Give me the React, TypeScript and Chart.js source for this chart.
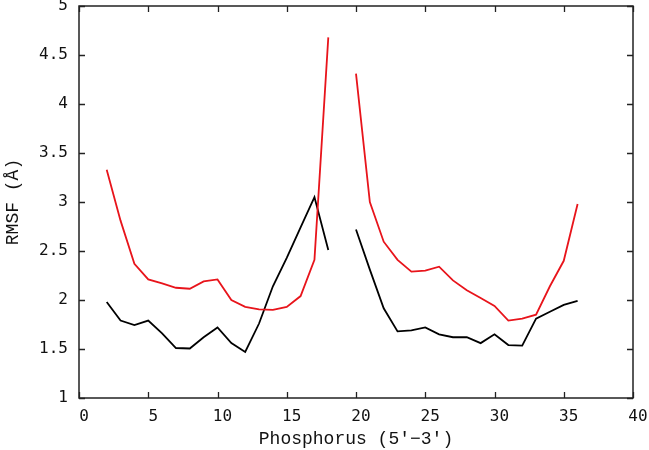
import React, { useEffect, useRef } from "react";
import { Chart, registerables } from "chart.js";

Chart.register(...registerables);

// x positions (phosphorus index); 19 has no value (gap)
const positions = [2, 3, 4, 5, 6, 7, 8, 9, 10, 11, 12, 13, 14, 15, 16, 17, 18, 19, 20, 21, 22, 23, 24, 25, 26, 27, 28, 29, 30, 31, 32, 33, 34, 35, 36];

const redSeries: (number | null)[] = [
  3.33, 2.81, 2.37, 2.21, 2.17, 2.125, 2.115, 2.19, 2.21, 2.0, 1.93, 1.905, 1.9, 1.93, 2.04, 2.41, 4.68,
  null,
  4.31, 3.0, 2.595, 2.41, 2.29, 2.3, 2.34, 2.2, 2.1, 2.02, 1.94, 1.79, 1.81, 1.85, 2.14, 2.4, 2.98,
];

const blackSeries: (number | null)[] = [
  1.98, 1.79, 1.745, 1.79, 1.66, 1.51, 1.505, 1.62, 1.72, 1.56, 1.47, 1.76, 2.14, 2.43, 2.74, 3.05, 2.51,
  null,
  2.72, 2.31, 1.915, 1.68, 1.69, 1.72, 1.65, 1.62, 1.62, 1.56, 1.65, 1.54, 1.535, 1.81, 1.88, 1.95, 1.99,
];

const xTicks = [0, 5, 10, 15, 20, 25, 30, 35, 40];
const yTicks = [1, 1.5, 2, 2.5, 3, 3.5, 4, 4.5, 5];

const xTitle = "Phosphorus (5\u2032\u22123\u2032)";
const yTitle = "RMSF (\u00C5)";

const AXIS_COLOR = "#222222";
const TICK_LEN = 6;

const framePlugin = {
  id: "frameTicks",
  afterDatasetsDraw(chart: any) {
    const { ctx, chartArea, scales } = chart;
    const { left, right, top, bottom } = chartArea;
    ctx.save();
    ctx.strokeStyle = AXIS_COLOR;
    ctx.lineWidth = 1.3;
    ctx.beginPath();
    xTicks.forEach((v) => {
      const px = Math.round(scales.x.getPixelForValue(v)) + 0.5;
      ctx.moveTo(px, bottom);
      ctx.lineTo(px, bottom - TICK_LEN);
      ctx.moveTo(px, top);
      ctx.lineTo(px, top + TICK_LEN);
    });
    yTicks.forEach((v) => {
      const py = Math.round(scales.y.getPixelForValue(v)) + 0.5;
      ctx.moveTo(left, py);
      ctx.lineTo(left + TICK_LEN, py);
      ctx.moveTo(right, py);
      ctx.lineTo(right - TICK_LEN, py);
    });
    ctx.stroke();
    ctx.lineWidth = 1.5;
    ctx.strokeRect(left, top, right - left, bottom - top);
    ctx.restore();
  },
};

export default function App() {
  const ref = useRef<HTMLCanvasElement | null>(null);

  useEffect(() => {
    if (!ref.current) return;
    const toPoints = (vals: (number | null)[]) =>
      positions.map((x, i) => ({ x, y: vals[i] }));

    const chart = new Chart(ref.current, {
      type: "line",
      data: {
        datasets: [
          {
            label: "red",
            data: toPoints(redSeries) as any,
            borderColor: "#e8141b",
            borderWidth: 1.8,
            pointRadius: 0,
            tension: 0,
            fill: false,
            spanGaps: false,
          },
          {
            label: "black",
            data: toPoints(blackSeries) as any,
            borderColor: "#000000",
            borderWidth: 1.8,
            pointRadius: 0,
            tension: 0,
            fill: false,
            spanGaps: false,
          },
        ],
      },
      options: {
        animation: false,
        responsive: false,
        devicePixelRatio: 1,
        layout: { padding: { left: 0, right: 16, top: 6, bottom: 0 } },
        plugins: {
          legend: { display: false },
          tooltip: { enabled: false },
        },
        scales: {
          x: {
            type: "linear",
            min: 0,
            max: 40,
            grid: { display: false, drawTicks: false },
            border: { display: false },
            afterBuildTicks: (scale: any) => {
              scale.ticks = xTicks.map((v) => ({ value: v }));
            },
            afterFit: (scale: any) => {
              scale.height = 52;
              scale.paddingLeft = 0;
              scale.paddingRight = 0;
            },
            ticks: {
              autoSkip: false,
              maxRotation: 0,
              padding: 9,
              labelOffset: 5,
              color: "#111111",
              font: { family: "DejaVu Sans Mono", size: 16 },
              callback: (v: any) => String(v),
            },
            title: {
              display: true,
              text: xTitle,
              color: "#111111",
              padding: { top: 0, bottom: 0 },
              font: { family: "Liberation Mono", size: 18 },
            },
          },
          y: {
            type: "linear",
            min: 1,
            max: 5,
            grid: { display: false, drawTicks: false },
            border: { display: false },
            afterBuildTicks: (scale: any) => {
              scale.ticks = yTicks.map((v) => ({ value: v }));
            },
            afterFit: (scale: any) => {
              scale.width = 79;
              scale.paddingTop = 0;
              scale.paddingBottom = 0;
            },
            ticks: {
              autoSkip: false,
              padding: 11,
              color: "#111111",
              font: { family: "DejaVu Sans Mono", size: 16 },
              callback: (v: any) => String(v),
            },
            title: {
              display: true,
              text: yTitle,
              color: "#111111",
              padding: { top: 2, bottom: 0 },
              font: { family: "Liberation Mono", size: 18 },
            },
          },
        },
      },
      plugins: [framePlugin],
    });
    return () => chart.destroy();
  }, []);

  return (
    <div style={{ position: "fixed", left: 0, top: 0, width: 649, height: 450, background: "#fff" }}>
      <canvas ref={ref} width={649} height={450} style={{ display: "block" }} />
    </div>
  );
}
